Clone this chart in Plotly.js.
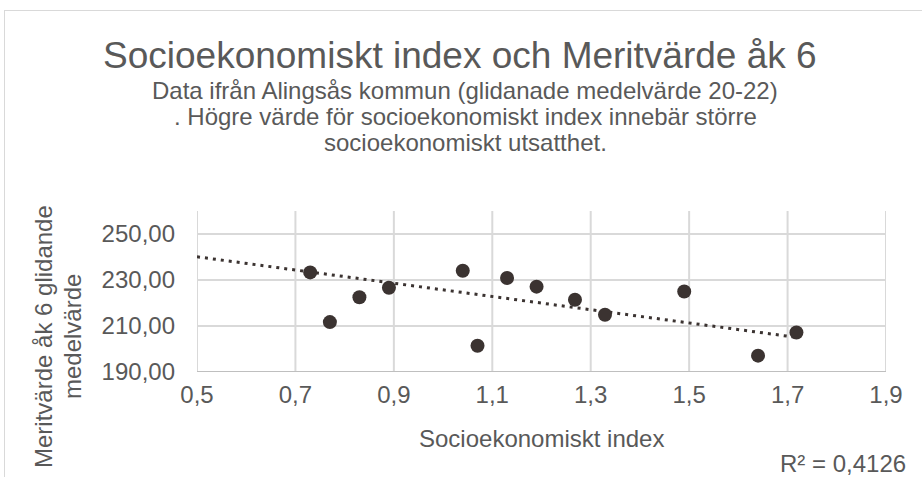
<!DOCTYPE html>
<html>
<head>
<meta charset="utf-8">
<script src="https://cdn.plot.ly/plotly-3.0.1.min.js"></script>
<style>
  body { margin: 0; overflow: hidden; background: #fff; }
  #chart { width: 922px; height: 477px; }
  #frame { position: absolute; left: 4px; top: 10px; width: 940px; height: 490px;
           border: 1px solid #d9d9d9; pointer-events: none; }
</style>
</head>
<body>
<div id="chart"></div>
<div id="frame"></div>
<script>
// socioekonomiskt index per skola and meritvärde åk 6
const socioIndex = [0.73, 0.77, 0.83, 0.89, 1.04, 1.07, 1.13, 1.19, 1.268, 1.329, 1.49, 1.64, 1.718];
const meritValue = [233.3, 211.7, 222.5, 226.6, 234.0, 201.4, 230.9, 227.1, 221.4, 214.9, 225.0, 197.1, 207.2];

// linear trendline as drawn in the chart (forecast back to 0.5)
const trendX = [0.5, 1.72];
const trendY = [240.1, 205.0];
const rSquared = "0,4126";

const xTicks = [0.5, 0.7, 0.9, 1.1, 1.3, 1.5, 1.7, 1.9];
const yTicks = [190, 210, 230, 250];

const textColor = "#595959";
const dotColor = "#3b3331";
const gridColor = "#d9d9d9";
const fontFam = "Liberation Sans, Arial, sans-serif";

// plot area in pixels, used to place the free text
const plotL = 197, plotR = 886, plotT = 211, plotB = 372;
function px(x) { return (x - plotL) / (plotR - plotL); }
function py(y) { return (plotB - y) / (plotB - plotT); }

function note(text, x, y, size, extra) {
    return Object.assign({
        xref: "paper", yref: "paper", x: px(x), y: py(y),
        text: text, showarrow: false,
        xanchor: "center", yanchor: "middle",
        font: {family: fontFam, size: size, color: textColor}
    }, extra || {});
}

// grid drawn as shapes, the axis grid did not show up in the render
let gridShapes = [];
xTicks.forEach(function (v) {
    gridShapes.push({type: "line", layer: "below", xref: "x", yref: "paper",
        x0: v, x1: v, y0: 0, y1: 1, line: {color: gridColor, width: 2}});
});
yTicks.forEach(function (v) {
    if (v == yTicks[0]) return;
    gridShapes.push({type: "line", layer: "below", xref: "paper", yref: "y",
        x0: 0, x1: 1, y0: v, y1: v, line: {color: gridColor, width: 2}});
});
// horizontal axis line
gridShapes.push({type: "line", layer: "below", xref: "paper", yref: "y",
    x0: 0, x1: 1, y0: yTicks[0], y1: yTicks[0], line: {color: "#bfbfbf", width: 2}});

const traces = [{
    x: trendX,
    y: trendY,
    mode: "lines",
    type: "scatter",
    line: {color: dotColor, width: 3, dash: "3px,5px"},
    hoverinfo: "skip"
}, {
    x: socioIndex,
    y: meritValue,
    mode: "markers",
    type: "scatter",
    marker: {color: dotColor, size: 14}
}];

const layout = {
    width: 922,
    height: 477,
    margin: {l: plotL, r: 922 - plotR, t: plotT, b: 477 - plotB, pad: 0},
    showlegend: false,
    separators: ", ",
    paper_bgcolor: "#fff",
    plot_bgcolor: "#fff",
    font: {family: fontFam, size: 24, color: textColor},
    xaxis: {
        range: [0.5, 1.9],
        tickmode: "array",
        tickvals: xTicks,
        tickformat: ".1f",
        showgrid: false,
        showline: false,
        zeroline: false,
        ticklabelstandoff: 6,
        tickfont: {family: fontFam, size: 24, color: textColor}
    },
    yaxis: {
        range: [190, 260],
        tickmode: "array",
        tickvals: yTicks,
        tickformat: ".2f",
        showgrid: false,
        showline: false,
        zeroline: false,
        ticklabelstandoff: 21,
        tickfont: {family: fontFam, size: 24, color: textColor}
    },
    shapes: gridShapes,
    annotations: [
        note("Socioekonomiskt index och Meritvärde åk 6", 460, 55, 37),
        note("Data ifrån Alingsås kommun (glidanade medelvärde 20-22)", 465, 90, 24),
        note(". Högre värde för socioekonomiskt index innebär större", 465, 116, 24),
        note("socioekonomiskt utsatthet.", 465, 142, 24),
        note("Meritvärde åk 6 glidande", 43, 337, 24, {textangle: -90}),
        note("medelvärde", 72, 337, 24, {textangle: -90}),
        note("Socioekonomiskt index", 541, 438, 24),
        note("R² = " + rSquared, 908, 463, 24, {xanchor: "right"})
    ]
};

Plotly.newPlot("chart", traces, layout, {displayModeBar: false});
</script>
</body>
</html>
